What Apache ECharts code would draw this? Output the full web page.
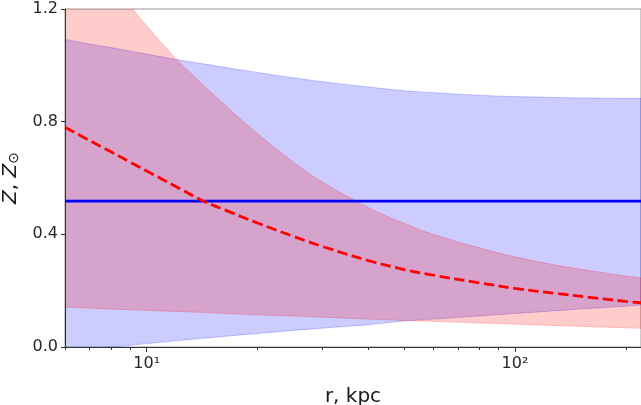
<!DOCTYPE html>
<html>
<head>
<meta charset="utf-8">
<script src="https://cdn.jsdelivr.net/npm/echarts@6/dist/echarts.min.js"></script>
<style>html,body{margin:0;padding:0;background:#fff;}#c{width:641px;height:405px;}</style>
</head>
<body>
<div id="c"></div>
<script>
// radius grid (kpc)
const rVals = [6, 7, 8, 9, 10, 12, 14, 17, 20, 25, 30, 40, 50, 60, 80, 100, 130, 160, 200, 220];
// blue band
const blueLower = [-0.01, -0.005, 0.0, 0.006, 0.012, 0.022, 0.030, 0.040, 0.048, 0.059, 0.067, 0.079, 0.092, 0.099, 0.110, 0.119, 0.129, 0.137, 0.145, 0.149];
const blueUpper = [1.092, 1.076, 1.063, 1.051, 1.040, 1.021, 1.007, 0.989, 0.975, 0.956, 0.942, 0.923, 0.910, 0.903, 0.894, 0.889, 0.886, 0.884, 0.883, 0.883];
// red band
const redLower = [0.141, 0.138, 0.135, 0.132, 0.130, 0.126, 0.123, 0.118, 0.114, 0.110, 0.106, 0.099, 0.094, 0.091, 0.085, 0.081, 0.076, 0.072, 0.068, 0.066];
const redUpper = [1.50, 1.39, 1.295, 1.212, 1.140, 1.024, 0.939, 0.838, 0.757, 0.657, 0.586, 0.495, 0.439, 0.400, 0.352, 0.320, 0.290, 0.271, 0.252, 0.245];
// red dashed curve
const redCurve = [0.780, 0.733, 0.693, 0.657, 0.625, 0.570, 0.523, 0.477, 0.440, 0.393, 0.357, 0.307, 0.275, 0.255, 0.228, 0.208, 0.190, 0.176, 0.162, 0.157];
// blue solid line
const rLine = [6, 220];
const blueLine = [0.518, 0.518];
// ticks
const xMajorTicks = [10, 100];
const xTickLabels = ['10\u00b9', '10\u00b2'];
const xMinorTicks = [6, 7, 8, 9, 20, 30, 40, 50, 60, 70, 80, 90, 200];

const pairs = (xs, ys) => xs.map((x, i) => [x, ys[i]]);

const FONT = 'DejaVu Sans';
const BLUE_F = 'rgba(0,0,255,0.2)';
const RED_F = 'rgba(255,0,0,0.2)';

// Catmull-Rom smoothing of a pixel polyline into cubic bezier path commands
function smoothCmds(p) {
  let d = '';
  for (let i = 0; i < p.length - 1; i++) {
    const p0 = p[Math.max(i - 1, 0)], p1 = p[i], p2 = p[i + 1], p3 = p[Math.min(i + 2, p.length - 1)];
    const c1 = [p1[0] + (p2[0] - p0[0]) / 6, p1[1] + (p2[1] - p0[1]) / 6];
    const c2 = [p2[0] - (p3[0] - p1[0]) / 6, p2[1] - (p3[1] - p1[1]) / 6];
    d += ' C' + c1[0] + ' ' + c1[1] + ' ' + c2[0] + ' ' + c2[1] + ' ' + p2[0] + ' ' + p2[1];
  }
  return d;
}

function bandSeries(lower, upper, color, z) {
  return {
    type: 'custom', xAxisIndex: 0, yAxisIndex: 0, clip: true, z: z, silent: true,
    data: rVals.map((r, i) => [r, lower[i], upper[i]]),
    encode: {x: 0, y: [1, 2]},
    renderItem: function (params, api) {
      if (params.dataIndex !== 0) return null;
      const top = rVals.map((r, i) => api.coord([r, upper[i]]));
      const bot = rVals.map((r, i) => api.coord([r, lower[i]])).reverse();
      const cs = params.coordSys;
      const d = 'M' + top[0][0] + ' ' + top[0][1] + smoothCmds(top) +
        ' L' + bot[0][0] + ' ' + bot[0][1] + smoothCmds(bot) + ' Z';
      return {
        type: 'path',
        shape: {pathData: d},
        style: {fill: color, stroke: color, lineWidth: 1},
        clipPath: {type: 'rect', shape: {x: cs.x, y: cs.y, width: cs.width, height: cs.height}}
      };
    }
  };
}

const chart = echarts.init(document.getElementById('c'), null, {renderer: 'canvas'});
const baseX = {
  type: 'log', logBase: 10, min: 6, max: 220,
  splitLine: {show: false},
  axisLine: {show: true, lineStyle: {color: '#333', width: 1}}
};
chart.setOption({
  animation: false,
  backgroundColor: '#fff',
  grid: {left: 65, top: 9, right: 0, bottom: 58, containLabel: false, outerBoundsMode: 'none',
    show: true, borderColor: '#999', borderWidth: 1, backgroundColor: 'transparent'},
  xAxis: [
    Object.assign({}, baseX, {
      name: 'r, kpc', nameLocation: 'middle', nameGap: 40,
      nameTextStyle: {fontFamily: FONT, fontSize: 20, color: '#1a1a1a'},
      axisTick: {show: true, length: 5, inside: false, customValues: xMajorTicks, lineStyle: {color: '#333'}},
      axisLabel: {show: true, customValues: xMajorTicks, margin: 9, fontFamily: FONT, fontSize: 16, color: '#262626',
        formatter: v => xTickLabels[xMajorTicks.findIndex(t => Math.abs(t - v) < 1e-6)] || ''}
    }),
    Object.assign({}, baseX, {
      position: 'bottom',
      axisTick: {show: true, length: 3, customValues: xMinorTicks, lineStyle: {color: '#333'}},
      axisLabel: {show: false}
    })
  ],
  yAxis: {
    type: 'value', min: 0, max: 1.2, interval: 0.4,
    splitLine: {show: false},
    axisLine: {show: true, lineStyle: {color: '#333', width: 1}},
    axisTick: {show: true, length: 4, lineStyle: {color: '#333'}},
    axisLabel: {margin: 7, fontFamily: FONT, fontSize: 16, color: '#262626', formatter: v => v.toFixed(1)},
    name: '{i|Z}{n|, }{i|Z}{s|\u2299}', nameLocation: 'middle', nameGap: 28, nameRotate: 90,
    nameTextStyle: {
      fontFamily: FONT, fontSize: 20, color: '#1a1a1a',
      rich: {
        i: {fontFamily: FONT, fontSize: 20, fontStyle: 'italic', color: '#1a1a1a'},
        n: {fontFamily: FONT, fontSize: 20, color: '#1a1a1a'},
        s: {fontFamily: FONT, fontSize: 14, color: '#1a1a1a', verticalAlign: 'bottom', padding: [8, 0, 0, 0]}
      }
    }
  },
  series: [
    bandSeries(blueLower, blueUpper, BLUE_F, 1),
    bandSeries(redLower, redUpper, RED_F, 2),
    {type: 'line', xAxisIndex: 0, data: pairs(rLine, blueLine), symbol: 'none',
      lineStyle: {color: '#0000ff', width: 2.6}, z: 3},
    {type: 'line', xAxisIndex: 0, data: pairs(rVals, redCurve), symbol: 'none', smooth: 0.4,
      lineStyle: {color: '#ff0000', width: 2.8, type: [10.5, 4.5]}, z: 4}
  ]
});
</script>
</body>
</html>
